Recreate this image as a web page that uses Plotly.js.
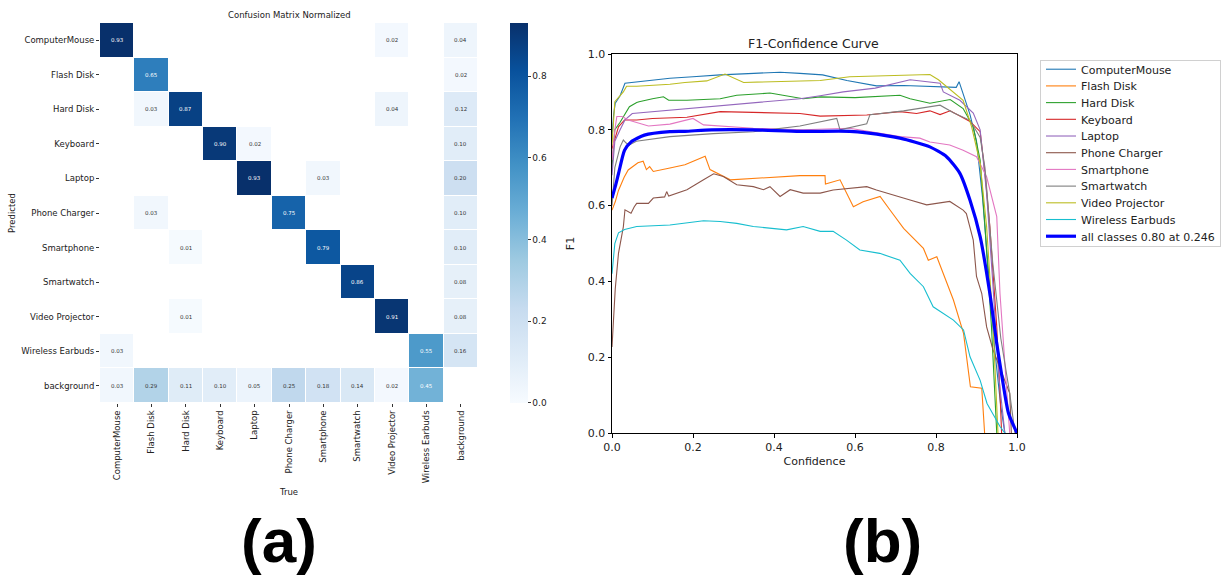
<!DOCTYPE html>
<html>
<head>
<meta charset="utf-8">
<script src="https://cdn.plot.ly/plotly-3.0.1.min.js"></script>
<style>html,body{margin:0;padding:0;background:#fff;}#chart{width:1227px;height:578px;}</style>
</head>
<body>
<div id="chart"></div>
<script>
// ---------- Confusion matrix data ----------
const cmClasses = ["ComputerMouse","Flash Disk","Hard Disk","Keyboard","Laptop","Phone Charger","Smartphone","Smartwatch","Video Projector","Wireless Earbuds","background"];
// rows = Predicted, columns = True (null = empty cell)
const rowComputerMouse   = [0.93,null,null,null,null,null,null,null,0.02,null,0.04];
const rowFlashDisk       = [null,0.65,null,null,null,null,null,null,null,null,0.02];
const rowHardDisk        = [null,0.03,0.87,null,null,null,null,null,0.04,null,0.12];
const rowKeyboard        = [null,null,null,0.90,0.02,null,null,null,null,null,0.10];
const rowLaptop          = [null,null,null,null,0.93,null,0.03,null,null,null,0.20];
const rowPhoneCharger    = [null,0.03,null,null,null,0.75,null,null,null,null,0.10];
const rowSmartphone      = [null,null,0.01,null,null,null,0.79,null,null,null,0.10];
const rowSmartwatch      = [null,null,null,null,null,null,null,0.86,null,null,0.08];
const rowVideoProjector  = [null,null,0.01,null,null,null,null,null,0.91,null,0.08];
const rowWirelessEarbuds = [0.03,null,null,null,null,null,null,null,null,0.55,0.16];
const rowBackground      = [0.03,0.29,0.11,0.10,0.05,0.25,0.18,0.14,0.02,0.45,null];
const cmMatrix = [rowComputerMouse,rowFlashDisk,rowHardDisk,rowKeyboard,rowLaptop,rowPhoneCharger,rowSmartphone,rowSmartwatch,rowVideoProjector,rowWirelessEarbuds,rowBackground];
const cbTicks = [0,0.2,0.4,0.6,0.8];

// ---------- F1-Confidence curve data ----------
const confComputerMouse = [0,0.004,0.008,0.02,0.032,0.06,0.1,0.143,0.2,0.267,0.35,0.415,0.464,0.52,0.58,0.653,0.72,0.8,0.85,0.857,0.867,0.884,0.9,0.915,0.93,0.945,0.96,0.97];
const f1ComputerMouse   = [0.78,0.84,0.87,0.89,0.923,0.926,0.93,0.936,0.94,0.945,0.949,0.952,0.949,0.945,0.93,0.916,0.917,0.915,0.912,0.927,0.896,0.84,0.77,0.62,0.42,0.22,0.07,0.0];

const confFlashDisk = [0,0.008,0.016,0.03,0.04,0.055,0.064,0.077,0.085,0.093,0.102,0.143,0.18,0.23,0.242,0.292,0.35,0.42,0.464,0.526,0.527,0.563,0.596,0.62,0.662,0.686,0.72,0.769,0.781,0.802,0.843,0.868,0.885,0.913,0.918,0.92];
const f1FlashDisk   = [0.588,0.61,0.64,0.675,0.694,0.705,0.713,0.717,0.695,0.703,0.69,0.699,0.708,0.73,0.695,0.668,0.672,0.675,0.679,0.679,0.657,0.668,0.597,0.61,0.624,0.589,0.54,0.487,0.456,0.465,0.351,0.263,0.122,0.118,0.05,0.0];

const confHardDisk = [0,0.007,0.02,0.031,0.043,0.061,0.067,0.1,0.127,0.14,0.185,0.267,0.308,0.39,0.472,0.514,0.6,0.711,0.736,0.785,0.835,0.867,0.892,0.909,0.921,0.937,0.95];
const f1HardDisk   = [0.70,0.80,0.82,0.84,0.861,0.872,0.874,0.882,0.887,0.878,0.878,0.882,0.891,0.897,0.882,0.887,0.885,0.891,0.882,0.87,0.88,0.856,0.808,0.72,0.544,0.28,0.0];

const confKeyboard = [0,0.016,0.031,0.047,0.061,0.1,0.185,0.267,0.39,0.464,0.514,0.629,0.711,0.752,0.785,0.81,0.835,0.859,0.884,0.909,0.921,0.933,0.95,0.958,0.962];
const f1Keyboard   = [0.75,0.808,0.826,0.826,0.826,0.83,0.833,0.848,0.845,0.843,0.836,0.839,0.848,0.843,0.85,0.84,0.85,0.836,0.822,0.795,0.685,0.544,0.28,0.105,0.0];

const confLaptop = [0,0.007,0.02,0.032,0.05,0.102,0.226,0.39,0.464,0.514,0.571,0.65,0.736,0.81,0.818,0.859,0.867,0.892,0.909,0.917,0.925,0.94,0.955,0.97];
const f1Laptop   = [0.68,0.77,0.80,0.826,0.843,0.848,0.86,0.874,0.882,0.89,0.9,0.91,0.932,0.923,0.9,0.878,0.87,0.844,0.80,0.72,0.632,0.4,0.15,0.0];

const confPhoneCharger = [0,0.008,0.016,0.028,0.032,0.047,0.055,0.061,0.09,0.102,0.13,0.135,0.14,0.185,0.226,0.251,0.275,0.308,0.349,0.374,0.39,0.415,0.44,0.472,0.514,0.546,0.629,0.653,0.736,0.777,0.834,0.843,0.867,0.875,0.892,0.9,0.913,0.925,0.941,0.966,0.982,0.986];
const f1PhoneCharger   = [0.227,0.38,0.474,0.544,0.589,0.58,0.597,0.606,0.606,0.62,0.623,0.637,0.625,0.642,0.668,0.684,0.677,0.655,0.65,0.642,0.65,0.624,0.642,0.633,0.633,0.641,0.65,0.641,0.615,0.602,0.611,0.605,0.588,0.579,0.509,0.413,0.368,0.28,0.219,0.149,0.105,0.0];

const confSmartphone = [0,0.007,0.012,0.025,0.04,0.06,0.09,0.143,0.185,0.2,0.226,0.349,0.472,0.587,0.711,0.76,0.785,0.834,0.867,0.9,0.925,0.941,0.95,0.958,0.974,0.982];
const f1Smartphone   = [0.72,0.80,0.835,0.835,0.826,0.82,0.81,0.815,0.826,0.83,0.813,0.804,0.80,0.804,0.782,0.778,0.768,0.76,0.746,0.729,0.676,0.606,0.571,0.368,0.105,0.0];

const confSmartwatch = [0,0.007,0.02,0.028,0.035,0.043,0.06,0.1,0.143,0.25,0.349,0.464,0.514,0.555,0.563,0.629,0.637,0.72,0.81,0.843,0.884,0.909,0.921,0.94,0.96,0.982,0.995];
const f1Smartwatch   = [0.60,0.70,0.755,0.773,0.765,0.76,0.77,0.776,0.782,0.79,0.795,0.81,0.82,0.83,0.80,0.816,0.84,0.85,0.865,0.845,0.825,0.78,0.70,0.45,0.25,0.105,0.0];

const confVideoProjector = [0,0.004,0.007,0.02,0.028,0.036,0.061,0.143,0.18,0.234,0.279,0.325,0.514,0.587,0.785,0.806,0.867,0.888,0.909,0.925,0.941,0.953];
const f1VideoProjector   = [0.76,0.83,0.874,0.89,0.90,0.915,0.915,0.92,0.925,0.929,0.947,0.925,0.93,0.94,0.946,0.932,0.878,0.808,0.711,0.544,0.28,0.0];

const confWirelessEarbuds = [0,0.007,0.016,0.031,0.061,0.143,0.226,0.267,0.308,0.349,0.431,0.472,0.514,0.546,0.579,0.612,0.661,0.711,0.736,0.769,0.793,0.843,0.868,0.884,0.909,0.926,0.958,0.97];
const f1WirelessEarbuds   = [0.42,0.50,0.528,0.537,0.545,0.549,0.56,0.558,0.553,0.545,0.536,0.545,0.532,0.532,0.509,0.483,0.474,0.456,0.421,0.386,0.333,0.298,0.272,0.201,0.139,0.078,0.017,0.0];

const confAllClasses = [0,0.008,0.016,0.031,0.047,0.08,0.143,0.18,0.246,0.349,0.464,0.587,0.629,0.711,0.785,0.826,0.859,0.884,0.909,0.933,0.95,0.963,0.979,1.0];
const f1AllClasses   = [0.62,0.65,0.684,0.746,0.768,0.786,0.795,0.796,0.80,0.80,0.796,0.796,0.792,0.778,0.755,0.729,0.685,0.614,0.518,0.368,0.236,0.148,0.052,0.0];

const curveNames = ["ComputerMouse","Flash Disk","Hard Disk","Keyboard","Laptop","Phone Charger","Smartphone","Smartwatch","Video Projector","Wireless Earbuds"];
const curveConf = [confComputerMouse,confFlashDisk,confHardDisk,confKeyboard,confLaptop,confPhoneCharger,confSmartphone,confSmartwatch,confVideoProjector,confWirelessEarbuds];
const curveF1 = [f1ComputerMouse,f1FlashDisk,f1HardDisk,f1Keyboard,f1Laptop,f1PhoneCharger,f1Smartphone,f1Smartwatch,f1VideoProjector,f1WirelessEarbuds];
const curveColors = ["#1f77b4","#ff7f0e","#2ca02c","#d62728","#9467bd","#8c564b","#e377c2","#7f7f7f","#bcbd22","#17becf"];
const allClassesLabel = "all classes 0.80 at 0.246";

// ---------- build ----------
const FONT = "DejaVu Sans, Verdana, sans-serif";
const blues = [[0,"#f7fbff"],[0.125,"#deebf7"],[0.25,"#c6dbef"],[0.375,"#9ecae1"],[0.5,"#6baed6"],[0.625,"#4292c6"],[0.75,"#2171b5"],[0.875,"#08519c"],[1,"#08306b"]];

const traces = [];
traces.push({
  type: "heatmap", x: cmClasses, y: cmClasses, z: cmMatrix,
  xaxis: "x", yaxis: "y", colorscale: blues, zmin: 0, zmax: 0.93,
  xgap: 1, ygap: 1, showscale: true, hoverinfo: "skip", showlegend: false,
  colorbar: {x: 0.4156, xanchor: "left", xpad: 0, ypad: 0, thickness: 18, len: 380, lenmode: "pixels",
    y: 0.6315, yanchor: "middle", outlinewidth: 0, ticks: "outside", ticklen: 3, tickcolor: "#333",
    tickvals: cbTicks, tickformat: ".1f", tickfont: {family: FONT, size: 9, color: "#222"}}
});
for (let i = 0; i < curveNames.length; i++) {
  traces.push({type: "scatter", mode: "lines", x: curveConf[i], y: curveF1[i], name: curveNames[i],
    xaxis: "x2", yaxis: "y2", line: {color: curveColors[i], width: 1.1}, hoverinfo: "skip"});
}
traces.push({type: "scatter", mode: "lines", x: confAllClasses, y: f1AllClasses, name: allClassesLabel,
  xaxis: "x2", yaxis: "y2", line: {color: "#0000ff", width: 3.2, shape: "spline", smoothing: 0.6}, hoverinfo: "skip"});

const annotations = [];
for (let r = 0; r < cmClasses.length; r++) {
  for (let c = 0; c < cmClasses.length; c++) {
    const v = cmMatrix[r][c];
    if (v === null) continue;
    annotations.push({xref: "x", yref: "y", x: cmClasses[c], y: cmClasses[r], text: v.toFixed(2),
      showarrow: false, font: {family: FONT, size: 5.5, color: v > 0.4 ? "#ffffff" : "#333333"}});
  }
}
annotations.push({xref: "paper", yref: "paper", x: 289/1227, y: 1 - 15/578, text: "Confusion Matrix Normalized",
  showarrow: false, xanchor: "center", yanchor: "middle", font: {family: FONT, size: 8.5, color: "#222"}});
annotations.push({xref: "paper", yref: "paper", x: 814/1227, y: 1 - 43/578, text: "F1-Confidence Curve",
  showarrow: false, xanchor: "center", yanchor: "middle", font: {family: FONT, size: 12.5, color: "#222"}});
annotations.push({xref: "paper", yref: "paper", x: 279/1227, y: 1 - 540/578, text: "<b>(a)</b>",
  showarrow: false, xanchor: "center", yanchor: "middle", font: {family: "Liberation Sans Narrow, Liberation Sans, Arial", size: 62, color: "#000"}});
annotations.push({xref: "paper", yref: "paper", x: 882/1227, y: 1 - 540/578, text: "<b>(b)</b>",
  showarrow: false, xanchor: "center", yanchor: "middle", font: {family: "Liberation Sans Narrow, Liberation Sans, Arial", size: 62, color: "#000"}});

const layout = {
  width: 1227, height: 578, margin: {l: 0, r: 0, t: 0, b: 0},
  paper_bgcolor: "#fff", plot_bgcolor: "#fff",
  font: {family: FONT, color: "#222"},
  xaxis: {domain: [100/1227, 478/1227], anchor: "y", type: "category", showgrid: false, zeroline: false, showline: false,
    ticks: "outside", ticklen: 3, tickcolor: "#333", tickangle: -90, tickfont: {family: FONT, size: 8.5, color: "#222"},
    title: {text: "True", font: {family: FONT, size: 8.5, color: "#222"}, standoff: 6}},
  yaxis: {domain: [1 - 403/578, 1 - 23/578], anchor: "x", type: "category", autorange: "reversed", showgrid: false, zeroline: false, showline: false,
    ticks: "outside", ticklen: 3, tickcolor: "#333", tickfont: {family: FONT, size: 8.5, color: "#222"},
    title: {text: "Predicted", font: {family: FONT, size: 8.5, color: "#222"}, standoff: 4}},
  xaxis2: {domain: [612/1227, 1017/1227], anchor: "y2", range: [0, 1], showgrid: false, zeroline: false,
    showline: true, linecolor: "#000", linewidth: 1, mirror: true, ticks: "outside", ticklen: 3.5, tickcolor: "#000",
    dtick: 0.2, tickformat: ".1f", tickfont: {family: FONT, size: 11, color: "#222"},
    title: {text: "Confidence", font: {family: FONT, size: 11, color: "#222"}, standoff: 4}},
  yaxis2: {domain: [1 - 433/578, 1 - 54/578], anchor: "x2", range: [0, 1], showgrid: false, zeroline: false,
    showline: true, linecolor: "#000", linewidth: 1, mirror: true, ticks: "outside", ticklen: 3.5, tickcolor: "#000",
    dtick: 0.2, tickformat: ".1f", tickfont: {family: FONT, size: 11, color: "#222"},
    title: {text: "F1", font: {family: FONT, size: 11, color: "#222"}, standoff: 10}},
  showlegend: true,
  legend: {x: 1040/1227, y: 1 - 60/578, xanchor: "left", yanchor: "top", bgcolor: "#fff",
    bordercolor: "#d0d0d0", borderwidth: 1, font: {family: FONT, size: 11, color: "#222"}, itemwidth: 30,
    tracegroupgap: 0},
  annotations: annotations
};

Plotly.newPlot("chart", traces, layout, {staticPlot: true, displayModeBar: false}).then(function (gd) {
  // tighten legend row spacing to match the matplotlib legend (~16.7 px per row)
  try {
    const items = gd.querySelectorAll(".legend .traces");
    const bg = gd.querySelector(".legend .bg");
    if (!items.length || !bg) return;
    const step = 16.7;
    const bgTop = bg.getBoundingClientRect().top;
    const firstText = items[0].querySelector("text");
    const r0 = firstText.getBoundingClientRect();
    const curCenter = (r0.top + r0.bottom) / 2;
    const shift = (bgTop + 9.5) - curCenter;
    let y0 = null;
    items.forEach(function (el, i) {
      const t = el.getAttribute("transform") || "";
      const m = /translate\(\s*([-\d.e]+)[\s,]+([-\d.e]+)\s*\)/.exec(t);
      if (!m) return;
      if (y0 === null) y0 = parseFloat(m[2]) + shift;
      el.setAttribute("transform", "translate(" + m[1] + "," + (y0 + i * step) + ")");
    });
    bg.setAttribute("height", 186);
  } catch (e) {}
});
</script>
</body>
</html>
